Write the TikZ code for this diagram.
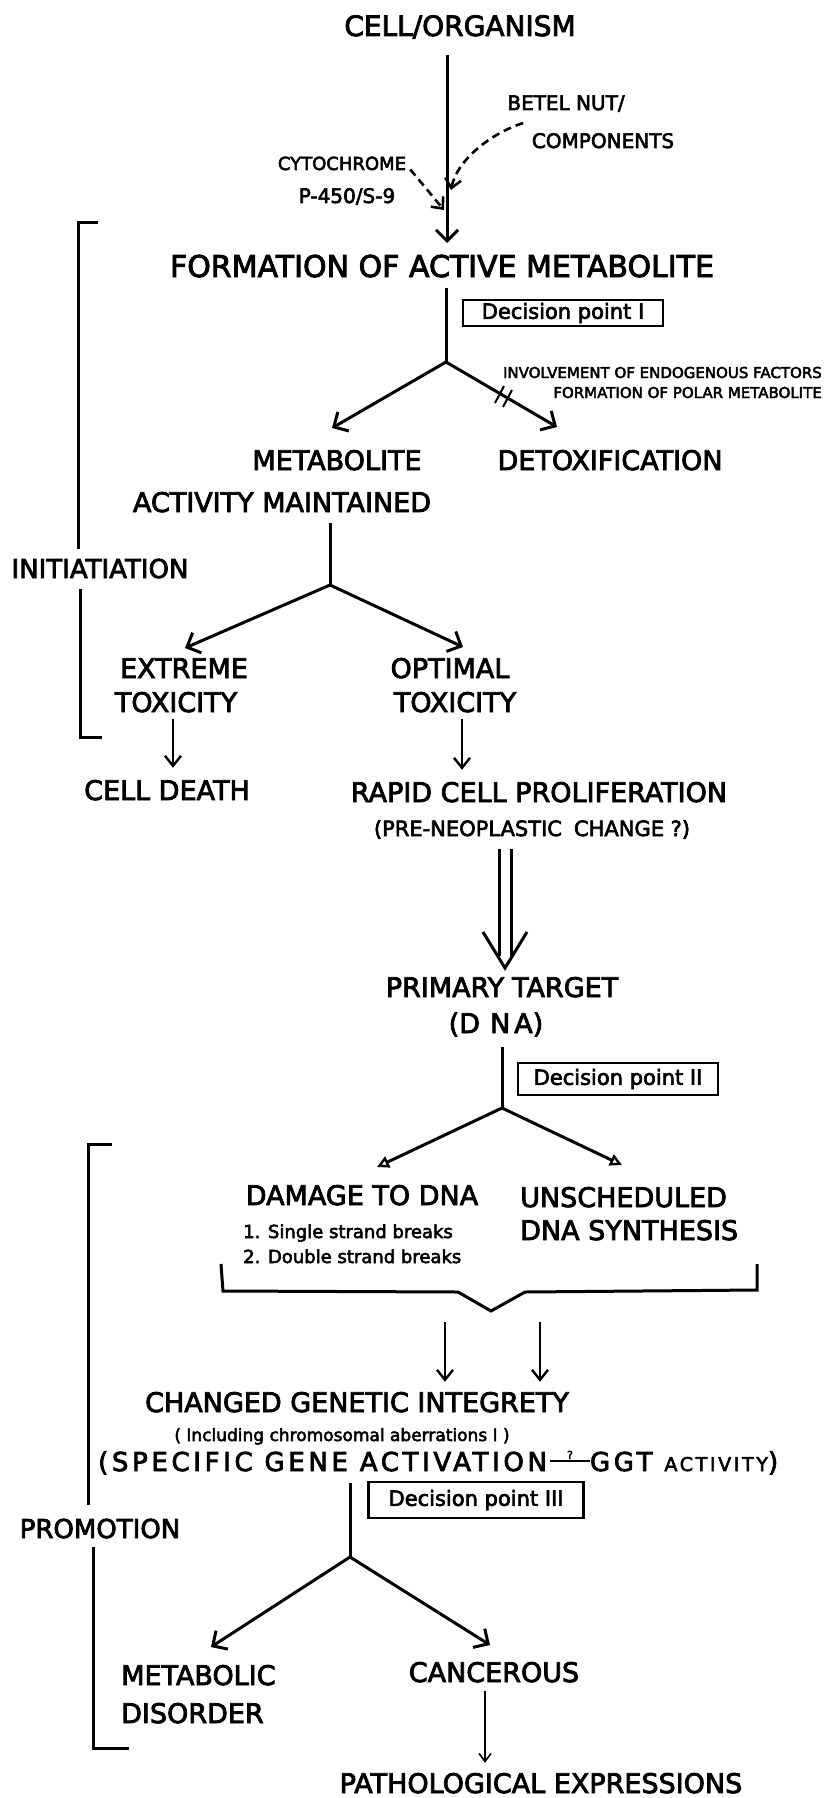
\documentclass[tikz,border=0pt]{standalone}
\usepackage{fontspec}
\setmainfont{DejaVu Sans}[FakeBold=3]
\usetikzlibrary{arrows.meta}
\newcommand{\qdash}{\makebox[0pt][l]{\makebox[40pt]{\raisebox{12pt}{\fontsize{11}{11}\selectfont ?}}}\rule[9pt]{40pt}{2pt}}

\begin{document}
\begin{tikzpicture}[x=1pt,y=-1pt]
\tikzset{every node/.style={inner sep=0pt,anchor=base,font=\fontsize{27}{30}\selectfont}}
\tikzset{
  mid/.style={font=\fontsize{20}{22}\selectfont},
  tiny/.style={font=\fontsize{15}{17}\selectfont},
  note/.style={font=\fontsize{18}{20}\selectfont},
  decision/.style={draw,line width=2.2pt,anchor=center,minimum width=#1,
    minimum height=28pt,font=\fontsize{21}{23}\selectfont},
  bar/.style={line width=3pt},
  flow/.style={bar,-{Straight Barb[length=11pt,width=22pt]}},
  drop/.style={line width=2.4pt,-{Straight Barb[length=10pt,width=16pt]}},
  hollow/.style={bar,-{Triangle[open,length=12pt,width=12pt,line width=2.4pt]}},
  feed/.style={line width=2.6pt,dash pattern=on 8pt off 5pt,-{Straight Barb[length=9pt,width=16pt]}}
}
\useasboundingbox (0,0) rectangle (826,1798);

% initiation
\node[font=\fontsize{28}{30}\selectfont] (cell) at (460,36) {CELL/ORGANISM};
\node[mid] (betel) at (566,110) {BETEL NUT/};
\node[mid] (comp) at (603,148) {COMPONENTS};
\node[note] (cyto) at (342,170) {CYTOCHROME};
\node[mid] (p450) at (347,203) {P-450/S-9};
\node[font=\fontsize{30}{32}\selectfont] (form) at (442,277) {FORMATION OF ACTIVE METABOLITE};

\coordinate (hit) at (447,243);
\coordinate (hitb) at (451,190);
\coordinate (hitc) at (444,210);
\draw[flow] ([yshift=-16pt]cell.south -| hit) -- (hit);
\draw[feed] ([xshift=16pt,yshift=-11pt]betel.south west) .. controls +(-32,10) and +(6,-30) .. (hitb);
\draw[feed] ([xshift=4pt,yshift=-6pt]cyto.east) -- (hitc);

\node[decision=200pt,minimum height=26pt] (dec1) at (563,313) {Decision point I};
\coordinate (j1) at (446,362);
\coordinate (t1l) at (332,428);
\coordinate (t1r) at (557,427);
\draw[bar] ([yshift=-10pt]form.south -| j1) -- (j1);
\draw[flow] (j1) -- (t1l);
\draw[flow] (j1) -- (t1r);
\draw[line width=2pt] (495,403) -- (504,386) (503,407) -- (512,390);

\node[tiny,anchor=base east] (invol) at (822,378) {INVOLVEMENT OF ENDOGENOUS FACTORS};
\node[tiny,anchor=base east] (polar) at (822,398) {FORMATION OF POLAR METABOLITE};

\node (meta) at (337,470) {METABOLITE};
\node (detox) at (610,470) {DETOXIFICATION};
\node (act) at (282,512) {ACTIVITY MAINTAINED};

\coordinate (j2) at (330,585);
\coordinate (t2l) at (185,648);
\coordinate (t2r) at (463,647);
\draw[bar] ([yshift=-10pt]act.south -| j2) -- (j2);
\draw[flow] (j2) -- (t2l);
\draw[flow] (j2) -- (t2r);

\node (extreme) at (184,678) {EXTREME};
\node (tox1) at (176,712) {TOXICITY};
\node (optimal) at (450,678) {OPTIMAL};
\node (tox2) at (455,712) {TOXICITY};
\node (death) at (167,800) {CELL DEATH};
\node (rapid) at (539,802) {RAPID CELL PROLIFERATION};
\node[font=\fontsize{21}{23}\selectfont] (preneo) at (532,836) {(PRE-NEOPLASTIC\hspace{12pt}CHANGE ?)};
\draw[drop] ([xshift=-3pt,yshift=-6pt]tox1.south) -- ([xshift=-3pt,yshift=12pt]tox1.south |- death.north);
\draw[drop] ([xshift=7pt,yshift=-6pt]tox2.south) -- ([xshift=7pt,yshift=12pt]tox2.south |- rapid.north);

\node[font=\fontsize{26}{28}\selectfont] (init) at (100,578) {INITIATIATION};
\coordinate (b1) at (78,222);
\coordinate (b1e) at (80,737);
\draw[bar] ([xshift=20pt]b1) -- (b1) -- ([yshift=10pt]init.north -| b1);
\draw[bar] ([yshift=-10pt]init.south -| b1e) -- (b1e) -- ([xshift=22pt]b1e);

% primary target
\coordinate (d1) at (505,968);
\draw[bar] ([xshift=-6pt,yshift=-10pt]preneo.south -| d1) -- ([xshift=-6pt,yshift=12pt]d1);
\draw[bar] ([xshift=6pt,yshift=-10pt]preneo.south -| d1) -- ([xshift=6pt,yshift=12pt]d1);
\draw[bar] ([xshift=-22pt,yshift=36pt]d1) -- (d1) -- ([xshift=22pt,yshift=36pt]d1);

\node (primary) at (502,997) {PRIMARY\hspace{8pt}TARGET};
\node (dna) at (496,1033) {(D\hspace{10pt}N\hspace{4pt}A)};
\node[decision=200pt,minimum height=32pt] (dec2) at (618,1079) {Decision point II};
\coordinate (j3) at (502,1108);
\coordinate (t3l) at (377,1167);
\coordinate (t3r) at (622,1165);
\draw[bar] ([yshift=-10pt]dna.south -| j3) -- (j3);
\draw[hollow] (j3) -- (t3l);
\draw[hollow] (j3) -- (t3r);

\node (damage) at (362,1205) {DAMAGE TO DNA};
\node[note,anchor=base west] (single) at (243,1238) {1. Single strand breaks};
\node[note,anchor=base west] (double) at (243,1263) {2. Double strand breaks};
\node[anchor=base west] (unsched) at (520,1207) {UNSCHEDULED};
\node[anchor=base west] (dnasyn) at (520,1240) {DNA SYNTHESIS};

% brace
\draw[bar] (221,1264) -- (223,1291) -- (458,1292) -- (491,1311) -- (525,1292) -- (757,1290) -- (757,1264);

\node (changed) at (357,1412) {CHANGED GENETIC INTEGRETY};
\coordinate (v1) at (445,1322);
\coordinate (v2) at (540,1322);
\draw[drop] (v1) -- ([yshift=10pt]v1 |- changed.north);
\draw[drop] (v2) -- ([yshift=10pt]v2 |- changed.north);
\node[font=\fontsize{17}{19}\selectfont] (incl) at (342,1441) {( Including chromosomal aberrations I )};
\node[font=\fontsize{26}{28}\selectfont\addfontfeature{LetterSpace=14},anchor=base west] (spec) at (98,1471) {(SPECIFIC GENE ACTIVATION\hspace{3pt}\qdash GGT {\fontsize{19}{19}\selectfont ACTIVITY})};

% promotion
\node[font=\fontsize{26}{28}\selectfont] (promo) at (100,1538) {PROMOTION};
\coordinate (b2) at (88,1144);
\coordinate (b2e) at (93,1748);
\draw[bar] ([xshift=24pt]b2) -- (b2) -- ([yshift=14pt]promo.north -| b2);
\draw[bar] ([yshift=-8pt]promo.south -| b2e) -- (b2e) -- ([xshift=36pt]b2e);

\node[decision=215pt,minimum height=36pt] (dec3) at (476,1500) {Decision point III};
\coordinate (j4) at (350,1557);
\coordinate (t4l) at (211,1647);
\coordinate (t4r) at (490,1645);
\draw[bar] ([yshift=-8pt]spec.south -| j4) -- (j4);
\draw[flow] (j4) -- (t4l);
\draw[flow] (j4) -- (t4r);

\node[anchor=base west] (metab) at (121,1685) {METABOLIC};
\node[anchor=base west] (disorder) at (121,1723) {DISORDER};
\node (cancer) at (494,1682) {CANCEROUS};
\node (patho) at (541,1793) {PATHOLOGICAL EXPRESSIONS};
\coordinate (v3) at (485,0);
\draw[line width=1.6pt,-{Straight Barb[length=8pt,width=12pt]}] ([yshift=-8pt]cancer.south -| v3) -- ([yshift=10pt]patho.north -| v3);
\end{tikzpicture}
\end{document}
